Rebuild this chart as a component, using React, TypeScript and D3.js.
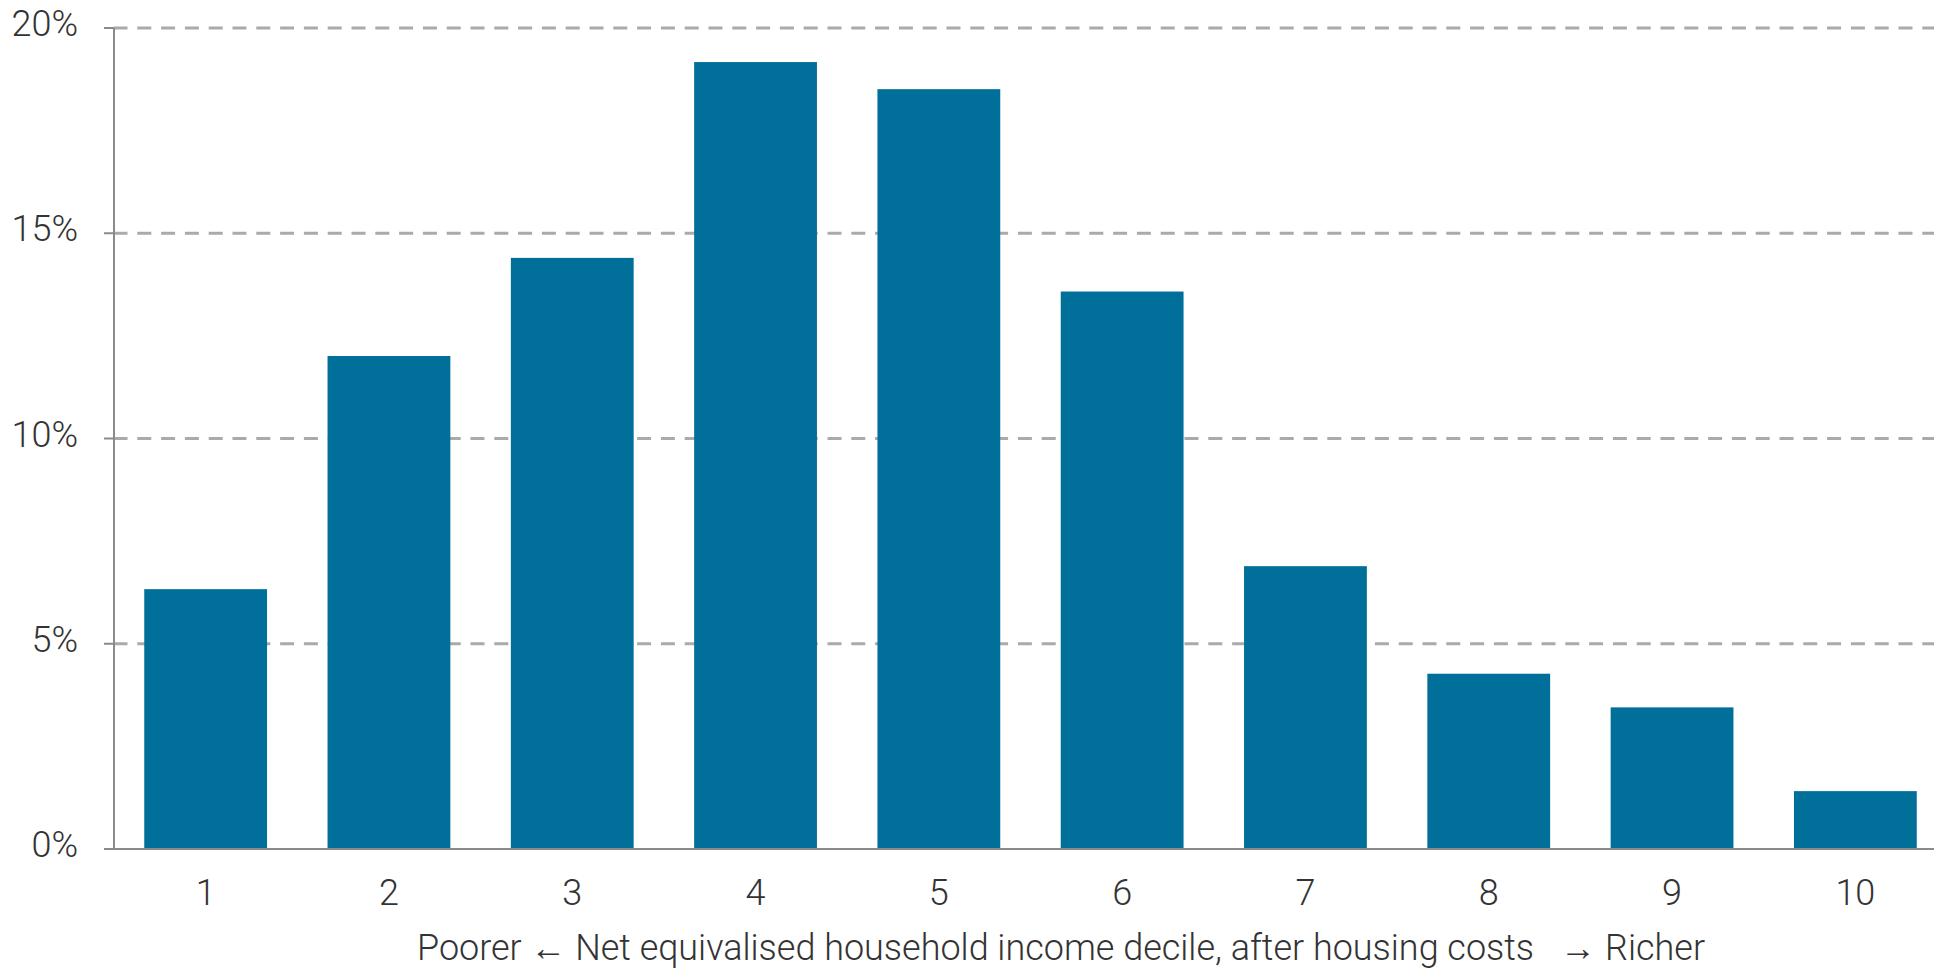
import React from "react";
import * as d3 from "d3";

const deciles: string[] = ["1", "2", "3", "4", "5", "6", "7", "8", "9", "10"];
const shares: number[] = [6.33, 12.01, 14.4, 19.17, 18.51, 13.58, 6.89, 4.27, 3.45, 1.41];
const yTicks: number[] = [0, 5, 10, 15, 20];
const xTitle = "Poorer \u2190 Net equivalised household income decile, after housing costs \u00a0\u00a0\u2192 Richer";

const W = 1934;
const H = 969;
const FONT = "Roboto, 'Open Sans', sans-serif";

export default function App() {
  const x = d3.scaleBand<string>().domain(deciles).range([114, 1947]).paddingInner(0.33).paddingOuter(0.165);
  const y = d3.scaleLinear().domain([0, 20]).range([849, 28]);
  const axisColor = "#8a8a8a";
  return (
    <svg width={W} height={H} style={{ position: "absolute", left: 0, top: 0, background: "#fff" }}>
      {yTicks.map((t) => (
        <g key={t}>
          {t > 0 && (
            <line x1={114} x2={W} y1={y(t)} y2={y(t)} stroke="#aaaaaa" strokeWidth={3} strokeDasharray="14 9.8" strokeDashoffset={0.5} />
          )}
          <line x1={104} x2={114} y1={y(t)} y2={y(t)} stroke={axisColor} strokeWidth={2} />
          <text x={78} y={y(t) + 8} textAnchor="end" fontFamily={FONT} fontWeight={300} fontSize={36} fill="#333">
            {t}%
          </text>
        </g>
      ))}
      {deciles.map((d, i) => (
        <rect key={d} x={x(d)} y={y(shares[i])} width={x.bandwidth()} height={y(0) - y(shares[i])} fill="#00709a" />
      ))}
      <line x1={114} x2={114} y1={y(20)} y2={y(0)} stroke={axisColor} strokeWidth={2} />
      <line x1={104} x2={W} y1={y(0)} y2={y(0)} stroke={axisColor} strokeWidth={2} />
      {deciles.map((d) => (
        <text key={d} x={(x(d) as number) + x.bandwidth() / 2} y={905} textAnchor="middle" fontFamily={FONT} fontWeight={300} fontSize={36} fill="#333">
          {d}
        </text>
      ))}
      <text x={417} y={960} fontFamily={FONT} fontWeight={300} fontSize={36} fill="#333" textLength={1288} lengthAdjust="spacingAndGlyphs">
        {xTitle}
      </text>
    </svg>
  );
}
